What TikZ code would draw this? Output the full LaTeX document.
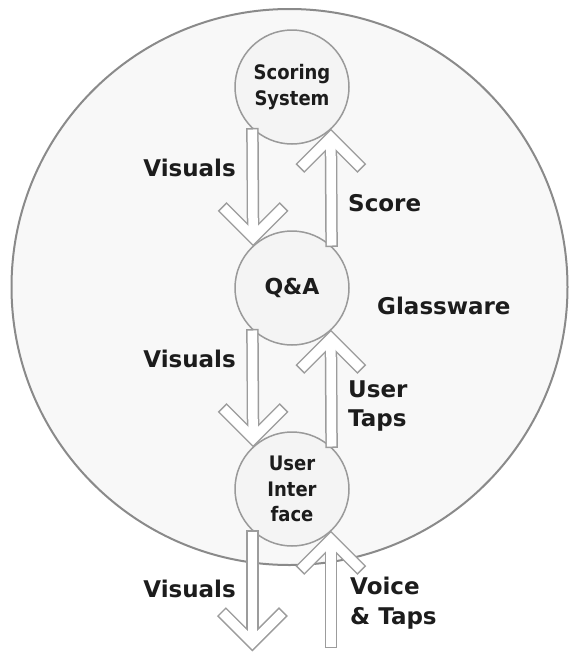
\documentclass[tikz,border=0pt]{standalone}
\usepackage{fontspec}
\setmainfont{DejaVu Sans}
\newfontfamily\stagefont[FakeStretch=0.9]{DejaVu Sans}
\usetikzlibrary{calc}

\definecolor{ringline}{HTML}{8A8A8A}
\definecolor{ringfill}{HTML}{F8F8F8}
\definecolor{nodeline}{HTML}{9A9A9A}
\definecolor{nodefill}{HTML}{F4F4F4}
\definecolor{arrowline}{HTML}{9C9C9C}
\definecolor{inktext}{HTML}{1C1C1C}

\tikzset{
  stage/.style={circle, draw=nodeline, line width=1.5pt, fill=nodefill,
    minimum size=114pt, inner sep=0pt, outer sep=0pt, align=center,
    text=inktext, font=\stagefont\bfseries\fontsize{20}{25.5}\selectfont},
  flowlabel/.style={font=\bfseries\fontsize{23}{29}\selectfont,
    text=inktext, inner sep=0pt},
  arrowedge/.style={draw=arrowline, line width=12.5pt, line join=miter,
    line cap=butt, miter limit=10},
  arrowbody/.style={draw=white, line width=9.5pt, line join=miter,
    line cap=butt, miter limit=10},
}

% hollow block arrow: shaft from #1 to the vertex #2, open chevron whose
% arms rise (or fall) by #3 from the vertex
\newcommand\glassflow[3]{%
  \draw[arrowedge] (#1) -- (#2);
  \draw[arrowedge] ($(#2)+(-31,#3)$) -- (#2) -- ($(#2)+(31,#3)$);
  \draw[arrowbody, shorten <=1.5pt] (#1) -- (#2);
  \draw[arrowbody, shorten <=1.5pt, shorten >=1.5pt]
    ($(#2)+(-31,#3)$) -- (#2) -- ($(#2)+(31,#3)$);
}

\begin{document}
\begin{tikzpicture}[x=1pt,y=-1pt]
\useasboundingbox (0,0) rectangle (570,659);

% the Glassware boundary
\node[circle, draw=ringline, line width=2pt, fill=ringfill,
  minimum size=556pt, inner sep=0pt, outer sep=0pt] (glass) at (289.5,287) {};

% stages
\node[stage] (score) at (292,87) {Scoring\\System};
\node[stage, font=\bfseries\fontsize{22}{26}\selectfont] (qa) at (292,288) {Q\&A};
\node[stage] (ui) at (292,489) {User\\Inter\\face};

% arrow vertices (tip minus the miter overhang)
\coordinate (v1) at ($(qa.133.17)+(0,-8.8)$);
\coordinate (u1) at ($(score.313.17)+(0,8.8)$);
\coordinate (v2) at ($(ui.133.17)+(0,-8.8)$);
\coordinate (u2) at ($(qa.313.17)+(0,8.8)$);
\coordinate (v3) at ($(ui.226.83)+(0,112.6)$);
\coordinate (u3) at ($(ui.313.17)+(0,8.8)$);
\coordinate (in3) at ($(ui.313.17)+(0,117.4)$);

% flows
\glassflow{score.226.83}{v1}{-31}
\glassflow{qa.46.83}{u1}{31}
\glassflow{qa.226.83}{v2}{-31}
\glassflow{ui.46.83}{u2}{31}
\glassflow{ui.226.83}{v3}{-31}
\glassflow{in3}{u3}{31}

% labels
\node[flowlabel, anchor=base east] (vis1) at (236,176) {Visuals};
\node[flowlabel, anchor=base west] (scorelbl) at (348,211) {Score};
\node[flowlabel, anchor=base west] (glasslbl) at (377,314) {Glassware};
\node[flowlabel, anchor=base east] (vis2) at (236,367) {Visuals};
\node[flowlabel, anchor=base west] (taps1) at (348,397) {User};
\node[flowlabel, anchor=base west] (taps2) at (348,426) {Taps};
\node[flowlabel, anchor=base east] (vis3) at (236,597) {Visuals};
\node[flowlabel, anchor=base west] (voice1) at (350,594) {Voice};
\node[flowlabel, anchor=base west] (voice2) at (350,624) {\& Taps};
\end{tikzpicture}
\end{document}
